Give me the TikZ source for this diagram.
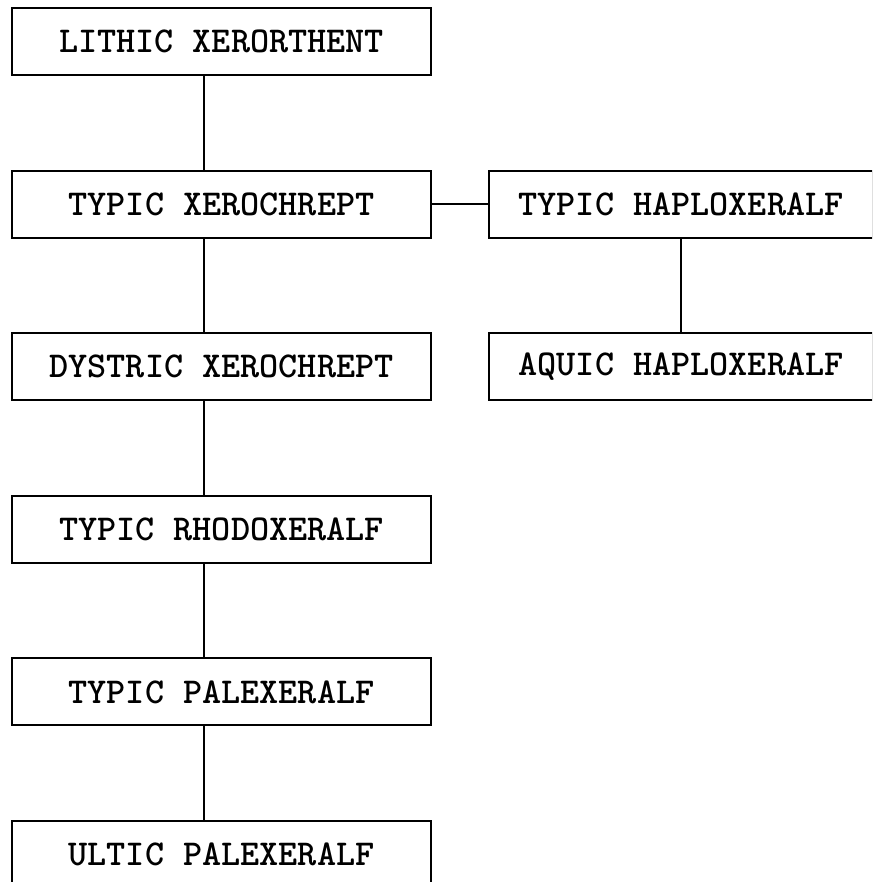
\documentclass[tikz,border=0pt]{standalone}
\usepackage{fontspec}
\usetikzlibrary{positioning}

\begin{document}
\begin{tikzpicture}[x=1pt,y=-1pt,
node distance=93.6pt and 56pt,
soil/.style={draw, line width=2pt, minimum width=419pt, minimum height=67pt, inner sep=0pt, font=\fontsize{36.4}{40}\selectfont\ttfamily\bfseries},
link/.style={line width=2pt}
]
\clip (0,0) rectangle (872,882);
\node[soil] (lith) at (221.5,41.5) {LITHIC XERORTHENT};
\node[soil, below=of lith] (typx) {TYPIC XEROCHREPT};
\node[soil, below=of typx] (dysx) {DYSTRIC XEROCHREPT};
\node[soil, below=of dysx] (rhod) {TYPIC RHODOXERALF};
\node[soil, below=of rhod] (tpal) {TYPIC PALEXERALF};
\node[soil, below=of tpal] (upal) {ULTIC PALEXERALF};
\node[soil, minimum width=384pt, right=of typx] (thap) {TYPIC HAPLOXERALF};
\node[soil, minimum width=384pt, below=of thap] (ahap) {AQUIC HAPLOXERALF};
% left column, line runs left of centre
\foreach \a/\b in {lith/typx, typx/dysx, dysx/rhod, rhod/tpal, tpal/upal}
  \draw[link] ([xshift=-18pt]\a.south) -- ([xshift=-18pt]\b.north);
\draw[link] (typx) -- (thap);
\draw[link] (thap) -- (ahap);
\end{tikzpicture}
\end{document}
